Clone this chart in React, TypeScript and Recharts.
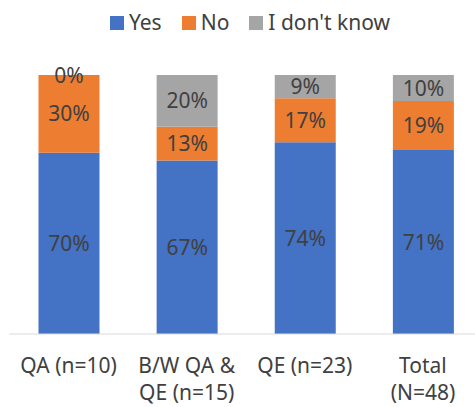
import React from 'react';
import { BarChart, Bar, XAxis, YAxis, Legend, LabelList } from 'recharts';

const categories = ['QA (n=10)', 'B/W QA & QE (n=15)', 'QE (n=23)', 'Total (N=48)'];
// how each category name breaks over lines under the axis
const tickLines = [['QA (n=10)'], ['B/W QA &', 'QE (n=15)'], ['QE (n=23)'], ['Total', '(N=48)']];
const yesValues = [70, 67, 74, 71];
const noValues = [30, 13, 17, 19];
const dontKnowValues = [0, 20, 9, 10];

const series = [
  { key: 'yes', name: 'Yes', color: '#4472C4' },
  { key: 'no', name: 'No', color: '#ED7D31' },
  { key: 'dontKnow', name: "I don't know", color: '#A5A5A5' },
];

const FONT = "'Noto Sans', sans-serif";
const TEXT = '#404040';
const FONT_SIZE = 21;

const data = categories.map((name, i) => ({
  name,
  yes: yesValues[i],
  no: noValues[i],
  dontKnow: dontKnowValues[i],
}));

const CategoryTick = (props: any) => {
  const { x, y, index } = props;
  const lines = tickLines[index] || [props.payload.value];
  return (
    <g>
      {lines.map((line: string, i: number) => (
        <text
          key={i}
          x={x}
          y={y + 39 + i * 27}
          textAnchor="middle"
          fill={TEXT}
          fontSize={FONT_SIZE}
          fontFamily={FONT}
        >
          {line}
        </text>
      ))}
    </g>
  );
};

// segment label, centred in its slice
const SegmentLabel = (props: any) => {
  const { x, y, width, height, value } = props;
  if (value == null) return null;
  return (
    <text
      x={x + width / 2}
      y={y + height / 2}
      dy="0.36em"
      textAnchor="middle"
      fill={TEXT}
      fontSize={FONT_SIZE}
      fontFamily={FONT}
    >
      {`${value}%`}
    </text>
  );
};

const LegendContent = () => (
  <div
    style={{
      display: 'flex',
      justifyContent: 'center',
      fontFamily: FONT,
      fontSize: FONT_SIZE,
      lineHeight: '27px',
      color: TEXT,
      marginLeft: 18,
    }}
  >
    {series.map((s) => (
      <div key={s.key} style={{ display: 'flex', alignItems: 'center', margin: '0 10px' }}>
        <span style={{ width: 14, height: 14, background: s.color, marginRight: 5 }} />
        <span>{s.name}</span>
      </div>
    ))}
  </div>
);

export default function App() {
  return (
    <div style={{ position: 'absolute', left: 0, top: 0, width: 475, height: 407, overflow: 'hidden', background: '#fff' }}>
      <BarChart
        width={482}
        height={407}
        data={data}
        margin={{ top: 48, right: 0, bottom: 0, left: 9.5 }}
        barSize={61}
      >
        <XAxis
          dataKey="name"
          height={73}
          axisLine={{ stroke: '#D9D9D9', strokeWidth: 1 }}
          tickLine={false}
          tickSize={0}
          tickMargin={0}
          interval={0}
          tick={<CategoryTick />}
        />
        <YAxis hide domain={[0, 100]} />
        <Legend
          verticalAlign="top"
          wrapperStyle={{ top: 9, left: 0, width: 482 }}
          content={<LegendContent />}
        />
        {series.map((s) => (
          <Bar
            key={s.key}
            dataKey={s.key}
            name={s.name}
            stackId="a"
            fill={s.color}
            minPointSize={0.01}
            isAnimationActive={false}
          >
            <LabelList dataKey={s.key} content={<SegmentLabel />} />
          </Bar>
        ))}
      </BarChart>
    </div>
  );
}
